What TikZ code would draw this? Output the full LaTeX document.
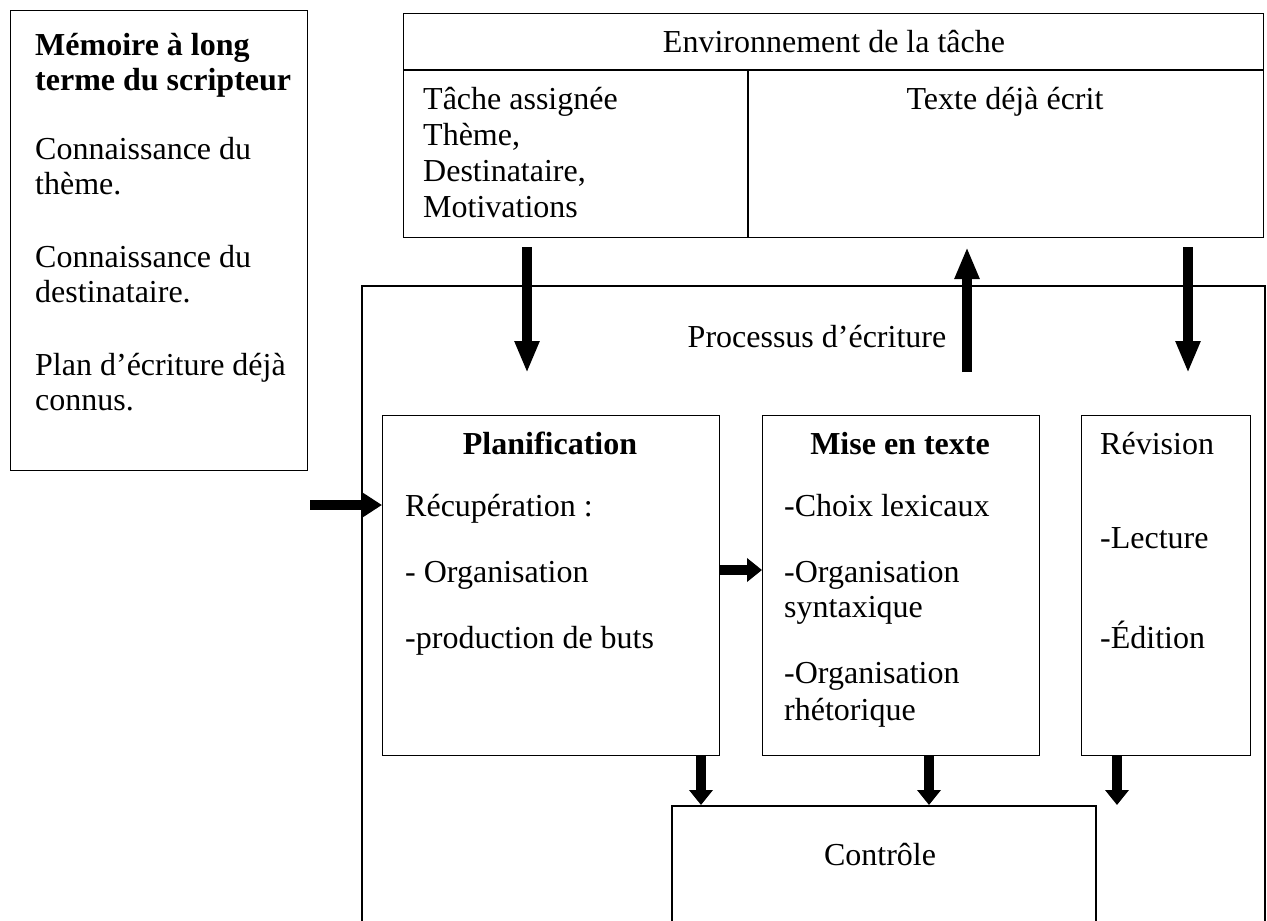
\documentclass[tikz,border=0pt]{standalone}
\usepackage{fontspec}
\setmainfont{Liberation Serif}
\usetikzlibrary{arrows.meta}
\begin{document}
\begin{tikzpicture}[
  x=1pt, y=-1pt,
  box/.style={draw, line width=1.3pt, anchor=north west, inner sep=0pt},
  bigbox/.style={box, line width=2pt},
  txt/.style={anchor=base west, inner sep=0pt, font=\fontsize{32}{36}\selectfont},
  ctxt/.style={txt, anchor=base},
  fat/.style={line width=10pt, -{Triangle[width=23pt,length=32pt]}},
  stub/.style={line width=10pt, -{Triangle[width=23pt,length=15pt]}}
]
\clip (0,0) rectangle (1267,921);

\node[box, minimum width=297pt, minimum height=460pt] (mem) at (10,10) {};
\node[box, minimum width=860pt, minimum height=224pt] (env) at (403,13) {};
\node[bigbox, minimum width=903pt, minimum height=700pt] (proc) at (361,285) {};
\node[box, minimum width=337pt, minimum height=340pt] (plan) at (382,415) {};
\node[box, minimum width=277pt, minimum height=340pt] (mise) at (762,415) {};
\node[box, minimum width=169pt, minimum height=340pt] (rev) at (1081,415) {};
\node[bigbox, minimum width=424pt, minimum height=200pt] (ctrl) at (671,805) {};

\coordinate (envline) at (0,70);
\coordinate (envcut) at (748,0);
\draw[line width=1.3pt] (env.west |- envline) -- (env.east |- envline);
\draw[line width=1.3pt] (envcut |- envline) -- (envcut |- env.south);

\node[txt, font=\fontsize{32}{36}\selectfont\bfseries] (memtitle) at (35,55) {Mémoire à long};
\node[txt, font=\fontsize{32}{36}\selectfont\bfseries] (memtitleb) at (35,90) {terme du scripteur};
\node[txt] (mema) at (35,159) {Connaissance du};
\node[txt] (memb) at (35,194) {thème.};
\node[txt] (memc) at (35,267) {Connaissance du};
\node[txt] (memd) at (35,302) {destinataire.};
\node[txt] (meme) at (35,375) {Plan d’écriture déjà};
\node[txt] (memf) at (35,410) {connus.};

\node[ctxt] (envtitle) at (834,52) {Environnement de la tâche};
\node[txt] (taska) at (423,109) {Tâche assignée};
\node[txt] (taskb) at (423,145) {Thème,};
\node[txt] (taskc) at (423,181) {Destinataire,};
\node[txt] (taskd) at (423,217) {Motivations};
\node[ctxt] (written) at (1005,109) {Texte déjà écrit};

\node[ctxt] (proctitle) at (817,347) {Processus d’écriture};

\node[ctxt, font=\fontsize{32}{36}\selectfont\bfseries] (plantitle) at (550,454) {Planification};
\node[txt] (plana) at (405,516) {Récupération :};
\node[txt] (planb) at (405,582) {- Organisation};
\node[txt] (planc) at (405,648) {-production de buts};

\node[ctxt, font=\fontsize{32}{36}\selectfont\bfseries] (misetitle) at (900,454) {Mise en texte};
\node[txt] (misea) at (784,516) {-Choix lexicaux};
\node[txt] (miseb) at (784,582) {-Organisation};
\node[txt] (misec) at (784,617) {syntaxique};
\node[txt] (mised) at (784,683) {-Organisation};
\node[txt] (misee) at (784,720) {rhétorique};

\node[txt] (revtitle) at (1100,454) {Révision};
\node[txt] (reva) at (1100,548) {-Lecture};
\node[txt] (revb) at (1100,648) {-Édition};

\node[ctxt] (ctrltitle) at (880,865) {Contrôle};

\coordinate (downa) at (527,247);
\coordinate (downaend) at (527,373);
\coordinate (upa) at (967,372);
\coordinate (upaend) at (967,247);
\coordinate (downb) at (1188,247);
\coordinate (downbend) at (1188,373);
\coordinate (memout) at (310,505);
\coordinate (planout) at (0,570);
\coordinate (ka) at (701,0);
\coordinate (kb) at (929,0);
\coordinate (kc) at (1117,0);

\draw[fat] (downa) -- (downaend);
\draw[fat] (upa) -- (upaend);
\draw[fat] (downb) -- (downbend);
\draw[stub, -{Triangle[width=23pt,length=19pt]}] (memout) -- (plan.west |- memout);
\draw[stub] (plan.east |- planout) -- (mise.west |- planout);
\draw[stub] (plan.south -| ka) -- (ctrl.north -| ka);
\draw[stub] (mise.south -| kb) -- (ctrl.north -| kb);
\draw[stub] (rev.south -| kc) -- (ctrl.north -| kc);
\end{tikzpicture}
\end{document}
